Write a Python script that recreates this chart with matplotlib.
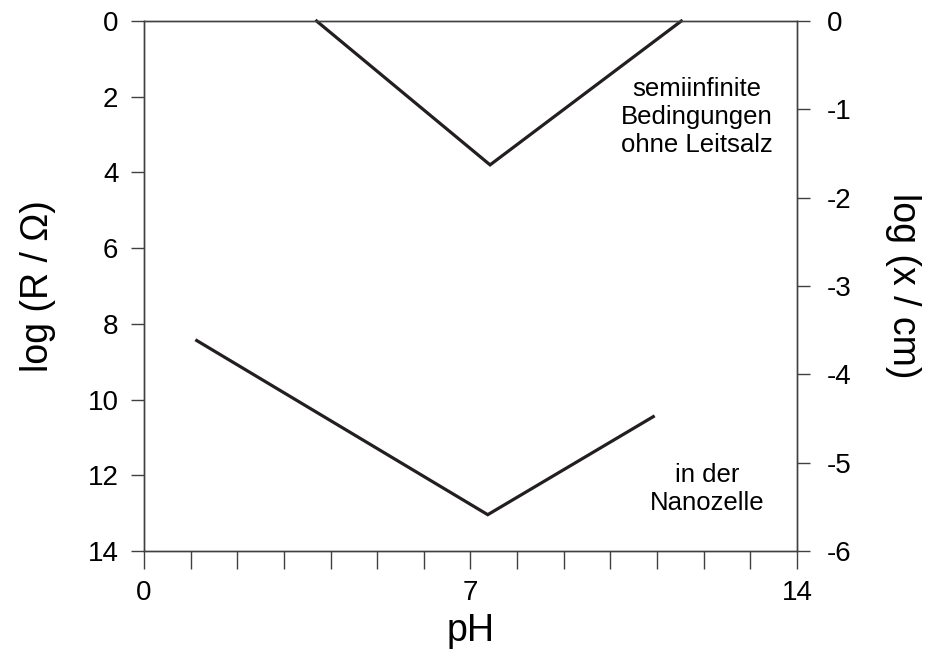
import matplotlib
matplotlib.use("Agg")
import matplotlib.pyplot as plt

plt.rcParams['font.family'] = ['Liberation Sans', 'DejaVu Sans']

# Resistance curves, log(R / Ohm) versus pH
ph_semiinfinite = [3.70, 7.42, 11.52]
logR_semiinfinite = [0.0, 3.80, 0.0]

ph_nanocell = [1.13, 7.37, 10.92]
logR_nanocell = [8.44, 13.04, 10.45]

x_ticks_minor = list(range(0, 15))
x_tick_labels = [0, 7, 14]
left_ticks = [0, 2, 4, 6, 8, 10, 12, 14]
right_ticks = [0, -1, -2, -3, -4, -5, -6]

line_color = '#231f20'
axis_color = '#404040'

fig = plt.figure(figsize=(9.31, 6.57), dpi=100)
ax = fig.add_axes([0.1547, 0.1613, 0.7013, 0.8067])

ax.plot(ph_semiinfinite, logR_semiinfinite, color=line_color, lw=2.3,
        solid_joinstyle='miter', clip_on=False)
ax.plot(ph_nanocell, logR_nanocell, color=line_color, lw=2.3,
        solid_joinstyle='miter', clip_on=False)

ax.set_xlim(0, 14)
ax.set_ylim(14, 0)

ax.set_xticks(x_ticks_minor)
ax.set_xticklabels([str(t) if t in x_tick_labels else '' for t in x_ticks_minor])
ax.set_yticks(left_ticks)
ax.set_yticklabels([str(t) for t in left_ticks])

for s in ax.spines.values():
    s.set_color(axis_color)
    s.set_linewidth(1.0)

ax.tick_params(axis='x', direction='out', length=13, width=1.0, color=axis_color,
               labelsize=20, pad=8)
ax.tick_params(axis='y', direction='out', length=9.4, width=1.0, color=axis_color,
               labelsize=20, pad=9)

ax.set_xlabel('pH', fontsize=27, labelpad=5)
ax.set_ylabel('log (R / Ω)', fontsize=27, labelpad=23)

ax2 = ax.twinx()
ax2.set_ylim(-6, 0)
ax2.set_yticks(right_ticks)
ax2.set_yticklabels([str(t) for t in right_ticks])
for s in ax2.spines.values():
    s.set_color(axis_color)
    s.set_linewidth(1.0)
ax2.tick_params(axis='y', direction='out', length=9.4, width=1.0, color=axis_color,
                labelsize=20, pad=12)
ax2.set_ylabel('log (x / cm)', fontsize=27, rotation=-90, labelpad=50)

ax.text(11.86, 2.54, 'semiinfinite\nBedingungen\nohne Leitsalz', ha='center', va='center',
        fontsize=18.5, linespacing=1.2)
ax.text(12.07, 12.36, 'in der\nNanozelle', ha='center', va='center',
        fontsize=18.5, linespacing=1.2)

fig.savefig('out.png', dpi=100)
